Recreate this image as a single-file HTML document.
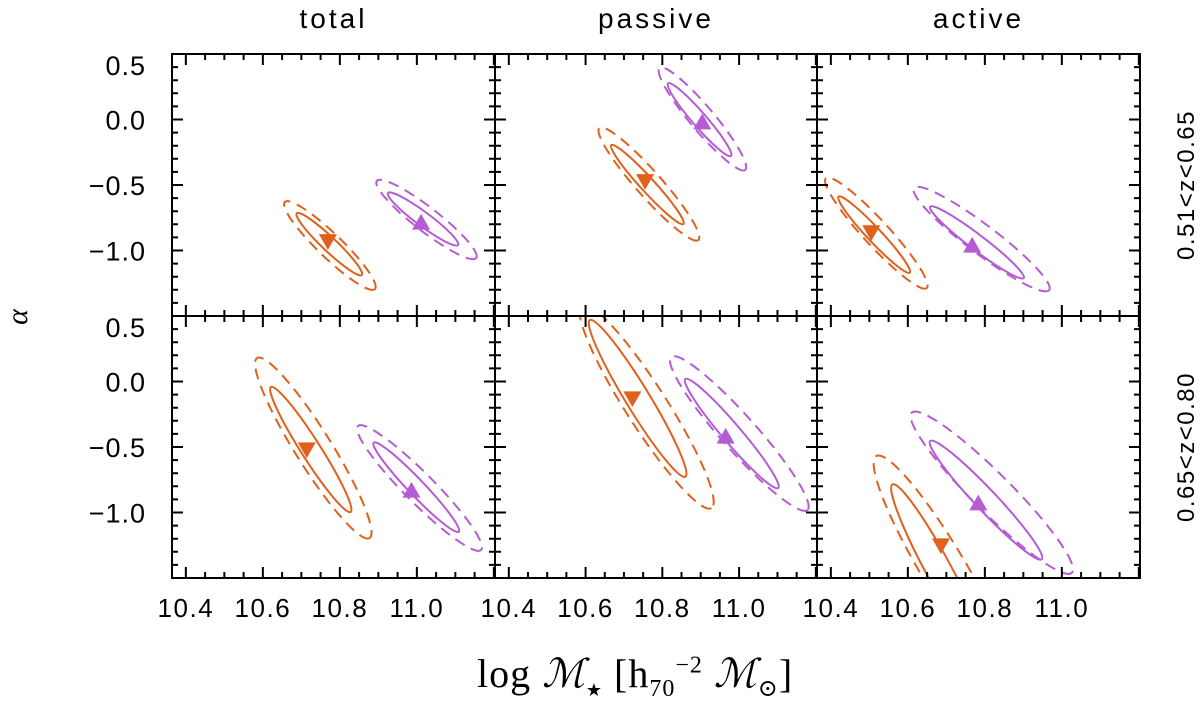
<!DOCTYPE html>
<html><head><meta charset="utf-8"><style>
body{margin:0;background:#fff;}
svg{display:block;}
text{font-family:"Liberation Sans",sans-serif;fill:#000;}
</style></head><body>
<svg id="chart" width="1200" height="711" viewBox="0 0 1200 711" xmlns="http://www.w3.org/2000/svg">
<g id="panels"></g>
<g id="labels"></g>
</svg>
<script>
// ---- data ----
const columnTitles = ["total", "passive", "active"];
const rowTitles = ["0.51<z<0.65", "0.65<z<0.80"];
const xTicks = [10.4, 10.6, 10.8, 11.0];
const xTickLabels = ["10.4", "10.6", "10.8", "11.0"];
const yTicks = [0.5, 0.0, -0.5, -1.0];
const yTickLabels = ["0.5", "0.0", "\u22120.5", "\u22121.0"];
const xRange = [10.364, 11.203];
const yRange = [-1.5, 0.5];
// ellipse major-axis endpoints [x1,y1,x2,y2] in data units, per panel [row][col]
const orangeSolid = [
  [[10.688,-0.716,10.857,-1.187],[10.667,-0.195,10.855,-0.798],[10.420,-0.589,10.605,-1.169]],
  [[10.621,-0.042,10.828,-0.996],[10.611,0.469,10.860,-0.727],[10.560,-0.785,10.800,-2.09]]];
const orangeDashed = [
  [[10.657,-0.630,10.891,-1.294],[10.636,-0.065,10.894,-0.920],[10.387,-0.447,10.649,-1.286]],
  [[10.585,0.179,10.877,-1.195],[10.590,0.584,10.928,-0.966],[10.518,-0.569,10.865,-2.28]]];
const purpleSolid = [
  [[10.925,-0.561,11.107,-0.958],[10.815,0.276,10.979,-0.279],[10.658,-0.666,10.901,-1.210]],
  [[10.888,-0.467,11.109,-1.147],[10.860,0.019,11.102,-0.813],[10.658,-0.454,10.948,-1.357]]];
const purpleDashed = [
  [[10.896,-0.469,11.154,-1.057],[10.793,0.393,11.016,-0.385],[10.616,-0.523,10.967,-1.302]],
  [[10.847,-0.340,11.167,-1.286],[10.823,0.187,11.178,-0.981],[10.610,-0.238,11.026,-1.46]]];
const orangeMarkers = [
  [[10.769,-0.933],[10.755,-0.475],[10.505,-0.866]],
  [[10.714,-0.523],[10.722,-0.134],[10.686,-1.256]]];
const purpleMarkers = [
  [[11.011,-0.782],[10.904,-0.017],[10.767,-0.958]],
  [[10.986,-0.828],[10.965,-0.416],[10.783,-0.925]]];

// ---- layout ----
const NS = "http://www.w3.org/2000/svg";
const colX = [172, 495, 817, 1140];
const rowY = [54, 316, 578];
const ORANGE = "#e0601c", PURPLE = "#b55bd4";
function mk(tag, attrs, parent){const e=document.createElementNS(NS,tag);for(const k in attrs)e.setAttribute(k,attrs[k]);parent.appendChild(e);return e;}
function sx(c,v){return colX[c]+(v-xRange[0])/(xRange[1]-xRange[0])*(colX[c+1]-colX[c]);}
function sy(r,v){return rowY[r]+(yRange[1]-v)/(yRange[1]-yRange[0])*(rowY[r+1]-rowY[r]);}
const panels = document.getElementById("panels");
const labels = document.getElementById("labels");
const defs = mk("defs",{},panels);

function drawEllipse(g,r,c,e,color,dashed,name){
  const x1=sx(c,e[0]),y1=sy(r,e[1]),x2=sx(c,e[2]),y2=sy(r,e[3]);
  const cx=(x1+x2)/2,cy=(y1+y2)/2;
  const a=Math.hypot(x2-x1,y2-y1)/2;
  const ang=Math.atan2(y2-y1,x2-x1)*180/Math.PI;
  const b=dashed?Math.max(a*0.17,12):Math.max(a*0.13,7);
  const el=mk("ellipse",{cx:cx,cy:cy,rx:a,ry:b,transform:`rotate(${ang} ${cx} ${cy})`,fill:"none",stroke:color,"stroke-width":2,"stroke-dasharray":dashed?"11 7":"none"},g);
  
  
}
function drawTri(g,r,c,p,color,down,name){
  const x=sx(c,p[0]),y=sy(r,p[1]),s=9;
  const pts=down?`${x-s},${y-s*0.85} ${x+s},${y-s*0.85} ${x},${y+s*0.9}`:`${x-s},${y+s*0.85} ${x+s},${y+s*0.85} ${x},${y-s*0.9}`;
  const t=mk("polygon",{points:pts,fill:color},g);
  
  
}

for(let r=0;r<2;r++){for(let c=0;c<3;c++){
  const x0=colX[c],x1=colX[c+1],y0=rowY[r],y1=rowY[r+1];
  const g=mk("g",{},panels);
  
  
  const cp=mk("clipPath",{id:`cp${r}${c}`},defs);
  mk("rect",{x:x0,y:y0,width:x1-x0,height:y1-y0},cp);
  const inner=mk("g",{"clip-path":`url(#cp${r}${c})`},g);
  drawEllipse(inner,r,c,orangeDashed[r][c],ORANGE,true,'orange-dashed-contour');
  drawEllipse(inner,r,c,orangeSolid[r][c],ORANGE,false,'orange-solid-contour');
  drawEllipse(inner,r,c,purpleDashed[r][c],PURPLE,true,'purple-dashed-contour');
  drawEllipse(inner,r,c,purpleSolid[r][c],PURPLE,false,'purple-solid-contour');
  drawTri(inner,r,c,orangeMarkers[r][c],ORANGE,true,'orange-marker');
  drawTri(inner,r,c,purpleMarkers[r][c],PURPLE,false,'purple-marker');
  // ticks
  let d="";
  for(let v=10.35;v<=11.21;v+=0.05){const vv=Math.round(v*100)/100;if(vv<xRange[0]||vv>xRange[1])continue;
    const X=sx(c,vv);const maj=Math.abs(vv*10-Math.round(vv*10))<1e-6&&Math.round(vv*10)%2===0;const L=maj?11:6;
    d+=`M${X},${y1}v${-L}M${X},${y0}v${L}`;}
  for(let v=-1.5;v<=0.501;v+=0.1){const vv=Math.round(v*10)/10;const Y=sy(r,vv);
    const maj=Math.abs(vv*2-Math.round(vv*2))<1e-6;const L=maj?11:6;
    d+=`M${x0},${Y}h${L}M${x1},${Y}h${-L}`;}
  mk("path",{d:d,stroke:"#000","stroke-width":2,fill:"none"},g);
  const fr=mk("rect",{x:x0,y:y0,width:x1-x0,height:y1-y0,fill:"none",stroke:"#000","stroke-width":2},g);
  
  
}}

// tick labels
for(let r=0;r<2;r++){yTicks.forEach((v,i)=>{
  let Y=sy(r,v)+10; if(v===0.5)Y+=11;
  const t=mk("text",{x:146,y:Y,"text-anchor":"end","font-size":27,"letter-spacing":"1"},labels);t.textContent=yTickLabels[i];
  
  
});}
for(let c=0;c<3;c++){xTicks.forEach((v,i)=>{
  const t=mk("text",{x:sx(c,v),y:617,"text-anchor":"middle","font-size":26,"letter-spacing":"1.5"},labels);t.textContent=xTickLabels[i];
  
  
});}
columnTitles.forEach((s,c)=>{
  const t=mk("text",{x:(colX[c]+colX[c+1])/2,y:28,"text-anchor":"middle","font-size":28,"letter-spacing":"3"},labels);t.textContent=s;
  
  
});
rowTitles.forEach((s,r)=>{
  const cy=(rowY[r]+rowY[r+1])/2;
  const t=mk("text",{x:1194,y:cy,"text-anchor":"middle","font-size":24,"letter-spacing":"1.5",transform:`rotate(-90 1194 ${cy})`},labels);t.textContent=s;
  
  
});
</script>
<div style="position:absolute;left:10px;top:300px;font:italic 30px 'Liberation Serif',serif;transform:rotate(-90deg);">α</div>
<div style="position:absolute;left:477px;top:650px;font:40px 'Liberation Serif','DejaVu Serif',serif;white-space:nowrap;letter-spacing:1px;">log <i>ℳ</i><sub style="font-size:18px">★</sub> [h<sub style="font-size:24px">70</sub><sup style="font-size:24px">−2</sup> <i>ℳ</i><sub style="font-size:24px">⊙</sub>]</div>
</body></html>
